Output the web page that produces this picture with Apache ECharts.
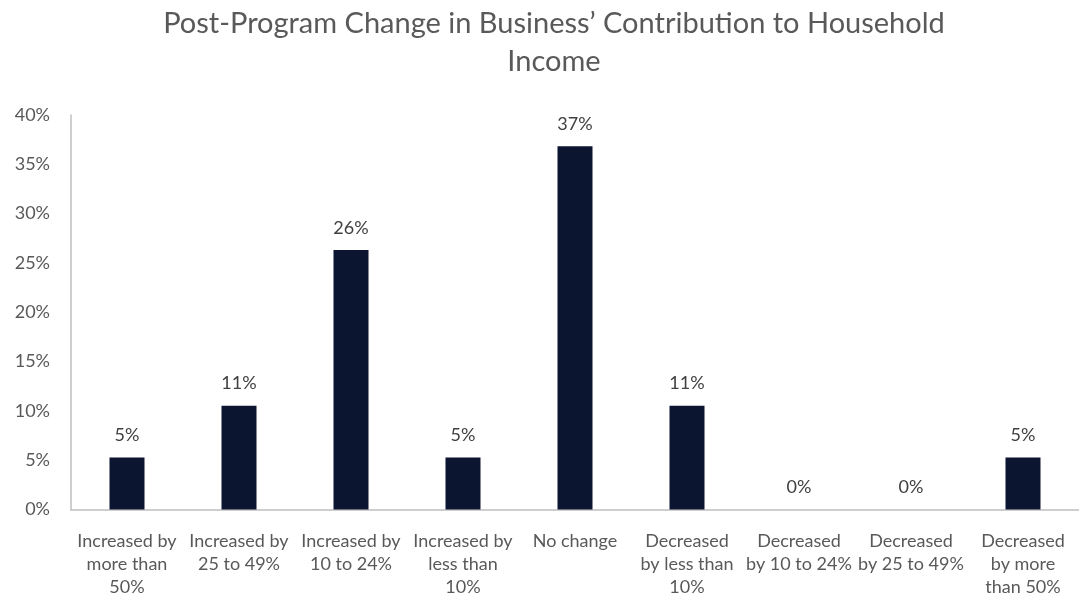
<!DOCTYPE html>
<html>
<head>
<meta charset="utf-8">
<script src="https://cdn.jsdelivr.net/npm/echarts@6/dist/echarts.min.js"></script>
<style>
  html, body { margin: 0; padding: 0; background: #ffffff; }
  #chart { width: 1079px; height: 600px; }
</style>
</head>
<body>
<div id="chart"></div>
<script>
// Survey categories (line breaks as they wrap under the bars)
const categories = [
  'Increased by\nmore than\n50%',
  'Increased by\n25 to 49%',
  'Increased by\n10 to 24%',
  'Increased by\nless than\n10%',
  'No change',
  'Decreased\nby less than\n10%',
  'Decreased\nby 10 to 24%',
  'Decreased\nby 25 to 49%',
  'Decreased\nby more\nthan 50%'
];

// Share of respondents, percent
const shares = [5.26, 10.53, 26.32, 5.26, 36.84, 10.53, 0, 0, 5.26];

// Y axis range and step, percent
const yMin = 0;
const yMax = 40;
const yStep = 5;

const fontFamily = 'Lato, "Open Sans", "Liberation Sans", sans-serif';
const textGrey = '#595959';
const axisGrey = '#bfbfbf';
const barColor = '#0c1530';

const chart = echarts.init(document.getElementById('chart'), null, { renderer: 'canvas' });

chart.setOption({
  animation: false,
  backgroundColor: '#ffffff',
  title: {
    text: 'Post-Program Change in Business\u2019 Contribution to Household\nIncome',
    left: 549,
    top: 0,
    textAlign: 'center',
    textStyle: {
      fontFamily: fontFamily,
      fontSize: 29,
      fontWeight: 'normal',
      color: textGrey,
      lineHeight: 38
    }
  },
  grid: {
    left: 71,
    top: 115,
    width: 1012.5,
    height: 394.5,
    containLabel: false
  },
  xAxis: {
    type: 'category',
    data: categories,
    axisLine: { show: true, lineStyle: { color: axisGrey, width: 1.5 } },
    axisTick: { show: false },
    axisLabel: {
      interval: 0,
      margin: 20,
      fontFamily: fontFamily,
      fontSize: 18,
      lineHeight: 23,
      color: textGrey,
      align: 'center'
    },
    splitLine: { show: false }
  },
  yAxis: {
    type: 'value',
    min: yMin,
    max: yMax,
    interval: yStep,
    axisLine: { show: true, lineStyle: { color: axisGrey, width: 1.5 } },
    axisTick: { show: false },
    splitLine: { show: false },
    axisLabel: {
      margin: 21,
      fontFamily: fontFamily,
      fontSize: 18,
      color: textGrey,
      formatter: function (v) { return v + '%'; }
    }
  },
  series: [{
    type: 'bar',
    data: shares,
    barWidth: 35,
    itemStyle: { color: barColor },
    label: {
      show: true,
      position: 'top',
      distance: 13,
      fontFamily: fontFamily,
      fontSize: 18,
      color: '#404040',
      formatter: function (p) { return Math.round(p.value) + '%'; }
    }
  }]
});
</script>
</body>
</html>
